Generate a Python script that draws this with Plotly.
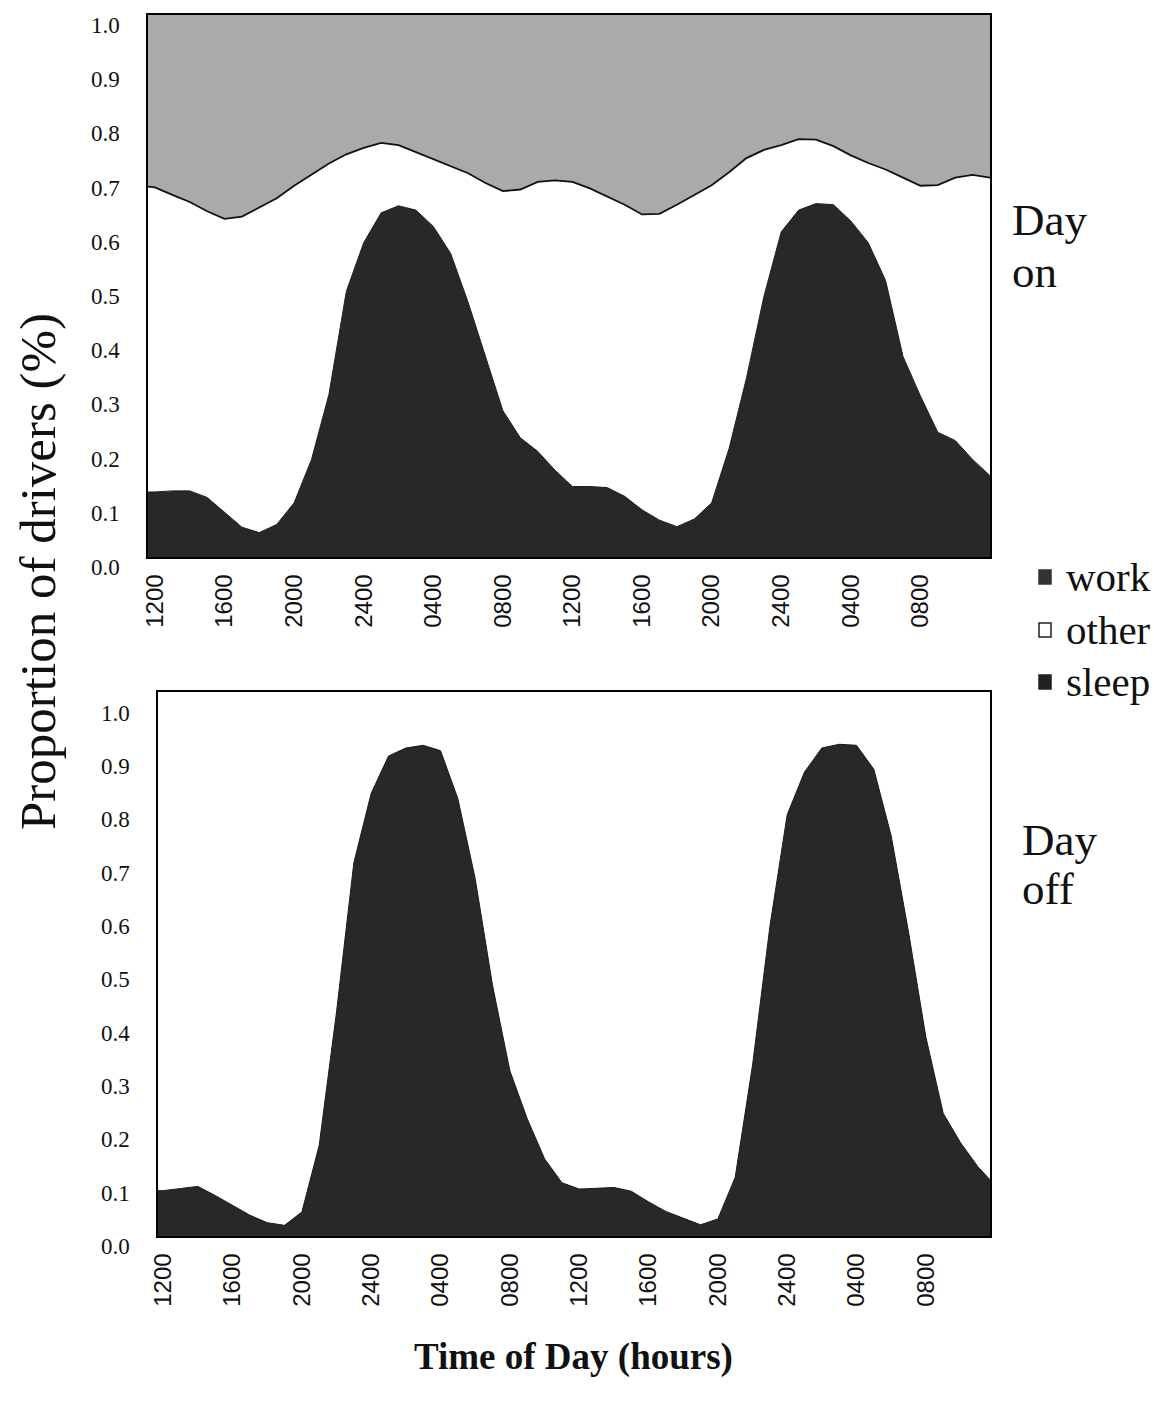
import plotly.graph_objects as go

# hours since 12:00 on day 1 (hourly readings)
hours = list(range(-1, 49))
tick_hours = [0, 4, 8, 12, 16, 20, 24, 28, 32, 36, 40, 44]
tick_text = ["1200", "1600", "2000", "2400", "0400", "0800",
             "1200", "1600", "2000", "2400", "0400", "0800"]
y_ticks = [0.0, 0.1, 0.2, 0.3, 0.4, 0.5, 0.6, 0.7, 0.8, 0.9, 1.0]

# Day on
sleep_on = [0.120, 0.120, 0.122, 0.122, 0.110, 0.082, 0.055, 0.045, 0.060, 0.100,
            0.180, 0.300, 0.490, 0.580, 0.635, 0.648, 0.640, 0.610, 0.560, 0.470,
            0.370, 0.270, 0.220, 0.195, 0.160, 0.130, 0.130, 0.128, 0.112, 0.087,
            0.068, 0.056, 0.070, 0.100, 0.200, 0.330, 0.480, 0.600, 0.640, 0.652,
            0.650, 0.620, 0.580, 0.510, 0.370, 0.297, 0.230, 0.215, 0.180, 0.150]
other_on = [0.565, 0.562, 0.546, 0.533, 0.528, 0.542, 0.573, 0.600, 0.602, 0.585,
            0.525, 0.426, 0.253, 0.175, 0.129, 0.112, 0.107, 0.124, 0.160, 0.238,
            0.320, 0.405, 0.458, 0.497, 0.535, 0.562, 0.550, 0.537, 0.538, 0.545,
            0.565, 0.594, 0.598, 0.586, 0.510, 0.406, 0.271, 0.160, 0.131, 0.118,
            0.108, 0.121, 0.147, 0.205, 0.330, 0.388, 0.456, 0.485, 0.525, 0.550]
work_on = [0.315, 0.318, 0.332, 0.345, 0.362, 0.376, 0.372, 0.355, 0.338, 0.315,
           0.295, 0.274, 0.257, 0.245, 0.236, 0.240, 0.253, 0.266, 0.280, 0.292,
           0.310, 0.325, 0.322, 0.308, 0.305, 0.308, 0.320, 0.335, 0.350, 0.368,
           0.367, 0.350, 0.332, 0.314, 0.290, 0.264, 0.249, 0.240, 0.229, 0.230,
           0.242, 0.259, 0.273, 0.285, 0.300, 0.315, 0.314, 0.300, 0.295, 0.300]

# Day off
sleep_off = [0.085, 0.085, 0.089, 0.093, 0.076, 0.057, 0.039, 0.025, 0.020, 0.045,
             0.170, 0.420, 0.700, 0.830, 0.900, 0.915, 0.920, 0.910, 0.820, 0.670,
             0.470, 0.310, 0.220, 0.145, 0.100, 0.088, 0.089, 0.091, 0.084, 0.064,
             0.046, 0.033, 0.021, 0.032, 0.110, 0.320, 0.580, 0.790, 0.870, 0.915,
             0.922, 0.920, 0.875, 0.750, 0.570, 0.373, 0.230, 0.175, 0.130, 0.095]

W, H = 1161, 1403
SERIF = "Liberation Serif, Times New Roman, serif"
SANS = "Liberation Sans, Arial, sans-serif"
SLEEP_C = "#282828"
WORK_C = "#aaaaaa"


def px_x(p):
    return p / W


def px_y(p):
    return 1 - p / H


fig = go.Figure()

fig.add_trace(go.Scatter(x=hours, y=sleep_on, stackgroup="on", name="sleep",
                         mode="lines", line=dict(color="#1a1a1a", width=1),
                         fillcolor=SLEEP_C, xaxis="x", yaxis="y", showlegend=False))
fig.add_trace(go.Scatter(x=hours, y=other_on, stackgroup="on", name="other",
                         mode="lines", line=dict(color="#111111", width=1.8),
                         fillcolor="white", xaxis="x", yaxis="y", showlegend=False))
fig.add_trace(go.Scatter(x=hours, y=work_on, stackgroup="on", name="work",
                         mode="lines", line=dict(color=WORK_C, width=0),
                         fillcolor=WORK_C, xaxis="x", yaxis="y", showlegend=False))

fig.add_trace(go.Scatter(x=hours, y=sleep_off, fill="tozeroy", name="sleep",
                         mode="lines", line=dict(color="#1a1a1a", width=1),
                         fillcolor=SLEEP_C, xaxis="x2", yaxis="y2", showlegend=False))

xcommon = dict(tickmode="array", tickvals=tick_hours, ticktext=tick_text,
               tickangle=-90, showgrid=False, zeroline=False,
               showline=True, linecolor="black", linewidth=1.5, mirror=True,
               ticks="", ticklabelstandoff=6,
               tickfont=dict(family=SANS, size=24, color="#111"))
ycommon = dict(tickmode="array", tickvals=y_ticks, tickformat=".1f",
               showgrid=False, zeroline=False,
               showline=True, linecolor="black", linewidth=1.5, mirror=True,
               ticks="", ticklabelstandoff=22, ticklabelshift=10,
               tickfont=dict(family=SERIF, size=23, color="#111"))

fig.update_layout(
    width=W, height=H,
    margin=dict(l=0, r=0, t=0, b=0, autoexpand=False),
    paper_bgcolor="white", plot_bgcolor="white",
    xaxis=dict(domain=[px_x(148), px_x(990)], range=[-0.4, 48.0], anchor="y", **xcommon),
    yaxis=dict(domain=[px_y(557), px_y(15)], range=[0, 1.0], anchor="x", **ycommon),
    xaxis2=dict(domain=[px_x(158), px_x(990)], range=[-0.3, 47.7], anchor="y2", **xcommon),
    yaxis2=dict(domain=[px_y(1236), px_y(692)], range=[0, 1.02], anchor="x2", **ycommon),
)

ann = []
ann.append(dict(text="Proportion of drivers (%)", x=px_x(38), y=px_y(572),
                xref="paper", yref="paper", showarrow=False, textangle=-90,
                xanchor="center", yanchor="middle",
                font=dict(family=SERIF, size=51, color="#111")))
for txt, xx, yy in [("Day", 1010, 220), ("on", 1010, 272),
                    ("Day", 1020, 840), ("off", 1020, 889)]:
    ann.append(dict(text=txt, x=px_x(xx), y=px_y(yy), xref="paper", yref="paper",
                    showarrow=False, xanchor="left", yanchor="middle", align="left",
                    font=dict(family=SERIF, size=45, color="#111")))
ann.append(dict(text="<b>Time of Day (hours)</b>", x=px_x(573), y=px_y(1357),
                xref="paper", yref="paper", showarrow=False,
                xanchor="center", yanchor="middle",
                font=dict(family=SERIF, size=37, color="#111")))

legend_items = [("work", 577, "#333333", "#333333"),
                ("other", 630, "white", "#222222"),
                ("sleep", 682, "#222222", "#222222")]
shapes = []
for label, cy, fill, edge in legend_items:
    shapes.append(dict(type="rect", xref="paper", yref="paper",
                       x0=px_x(1039), x1=px_x(1051), y0=px_y(cy + 7), y1=px_y(cy - 7),
                       fillcolor=fill, line=dict(color=edge, width=1.5)))
    ann.append(dict(text=label, x=px_x(1064), y=px_y(cy), xref="paper", yref="paper",
                    showarrow=False, xanchor="left", yanchor="middle",
                    font=dict(family=SERIF, size=41, color="#111")))

fig.update_layout(annotations=ann, shapes=shapes)

fig.write_html("out.html")
